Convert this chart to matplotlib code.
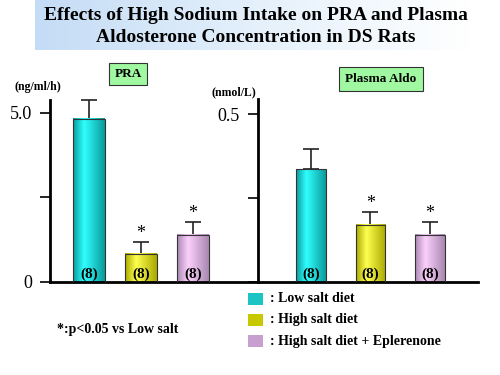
import numpy as np
import matplotlib
matplotlib.use('Agg')
import matplotlib.pyplot as plt
from matplotlib.colors import LinearSegmentedColormap
from matplotlib.patches import Rectangle

plt.rcParams['font.family'] = ['Liberation Serif', 'DejaVu Serif']
plt.rcParams['font.weight'] = 'bold'

groups = ['Low salt diet', 'High salt diet', 'High salt diet + Eplerenone']
n_labels = ['(8)', '(8)', '(8)']
pra = [4.82, 0.83, 1.39]
pra_err = [0.56, 0.35, 0.39]
aldo = [0.336, 0.170, 0.140]
aldo_err = [0.060, 0.038, 0.039]
signif = [False, True, True]

edge_cols = ['#0a9a9a', '#a8a800', '#a888b0']
mid_cols = ['#30ffff', '#ffff50', '#fcd0fc']
legend_cols = ['#1cc4c4', '#c8c800', '#c8a0d0']

fig = plt.figure(figsize=(5, 3.75), dpi=100)
W, H = 500.0, 375.0

# title background
bg = fig.add_axes([35 / W, 1 - 50 / H, 435 / W, 50 / H])
grad = np.linspace(0, 1, 256).reshape(1, -1)
bg.imshow(grad, aspect='auto', extent=(0, 1, 0, 1),
          cmap=LinearSegmentedColormap.from_list('t', ['#c4dcf6', '#e4f0fb', '#ffffff']))
bg.set_axis_off()
fig.text(256 / W, 1 - 15 / H, 'Effects of High Sodium Intake on PRA and Plasma',
         ha='center', va='center', fontsize=14, fontweight='bold')
fig.text(256 / W, 1 - 38 / H, 'Aldosterone Concentration in DS Rats',
         ha='center', va='center', fontsize=14, fontweight='bold')


def grad_bars(ax, bars):
    for b, e, m in zip(bars, edge_cols, mid_cols):
        cmap = LinearSegmentedColormap.from_list('b', [(0, e), (0.35, m), (1, e)])
        x0, y0, w, h = b.get_x(), b.get_y(), b.get_width(), b.get_height()
        ax.imshow(grad, aspect='auto', cmap=cmap, extent=(x0, x0 + w, y0, y0 + h),
                  zorder=2, interpolation='bicubic')
        ax.add_patch(Rectangle((x0, y0), w, h, fill=False, ec='#333333', lw=0.8, zorder=3))


def panel(ax, vals, errs, xlim, width, ylim, ticks, ticklabels, star_pad):
    x = np.arange(len(vals))
    bars = ax.bar(x, vals, width, color='none', zorder=2)
    grad_bars(ax, bars)
    ax.errorbar(x, vals, yerr=[np.zeros(len(vals)), errs], fmt='none', ecolor='#222222',
                elinewidth=1.2, capsize=6, capthick=1.2, zorder=1, clip_on=False)
    for xi, v, e, s, n in zip(x, vals, errs, signif, n_labels):
        if s:
            ax.text(xi, v + e + star_pad, '*', ha='center', va='bottom', fontsize=13,
                    fontweight='normal')
        ax.text(xi, ylim[1] * 0.005, n, ha='center', va='bottom', fontsize=11,
                fontweight='bold', zorder=4)
    ax.set_xlim(*xlim)
    ax.set_ylim(*ylim)
    ax.set_xticks([])
    ax.set_yticks(ticks)
    ax.set_yticklabels(ticklabels, fontsize=13, fontweight='normal')
    ax.tick_params(axis='y', direction='out', length=7, width=1.2, pad=6)
    for s in ['top', 'right']:
        ax.spines[s].set_visible(False)
    ax.spines['left'].set_linewidth(2)
    ax.spines['bottom'].set_linewidth(2)
    ax.patch.set_alpha(0)


ax1 = fig.add_axes([50 / W, 1 - 282 / H, 208 / W, 182 / H])
panel(ax1, pra, pra_err, (-0.75, 3.25), 0.6, (0, 5.38), [0, 2.5, 5.0], ['0', '', '5.0'], 0.0)

ax2 = fig.add_axes([258 / W, 1 - 282 / H, 220 / W, 183 / H])
panel(ax2, aldo, aldo_err, (-0.89, 2.81), 0.5, (0, 0.545), [0, 0.25, 0.5], ['', '', '0.5'], 0.0)

# panel labels
fig.text(128 / W, 1 - 74 / H, 'PRA', ha='center', va='center', fontsize=9.5,
         bbox=dict(boxstyle='square,pad=0.4', fc='#a0f8a0', ec='#333333', lw=0.8))
fig.text(381 / W, 1 - 79 / H, 'Plasma Aldo', ha='center', va='center', fontsize=9.5,
         bbox=dict(boxstyle='square,pad=0.45', fc='#a0f8a0', ec='#333333', lw=0.8))
fig.text(38 / W, 1 - 87 / H, '(ng/ml/h)', ha='center', va='center', fontsize=8.5)
fig.text(234 / W, 1 - 92 / H, '(nmol/L)', ha='center', va='center', fontsize=8.5)

# legend
for i, (c, g) in enumerate(zip(legend_cols, groups)):
    yc = 1 - (299 + 21 * i) / H
    fig.patches.append(Rectangle((248 / W, yc - 6 / H), 15 / W, 12 / H, fc=c, ec='none',
                                 transform=fig.transFigure, figure=fig))
    fig.text(270 / W, yc, ': ' + g, ha='left', va='center', fontsize=10)

fig.text(57 / W, 1 - 330 / H, '*:p<0.05 vs Low salt', ha='left', va='center', fontsize=10)

fig.savefig('out.png', dpi=100)
